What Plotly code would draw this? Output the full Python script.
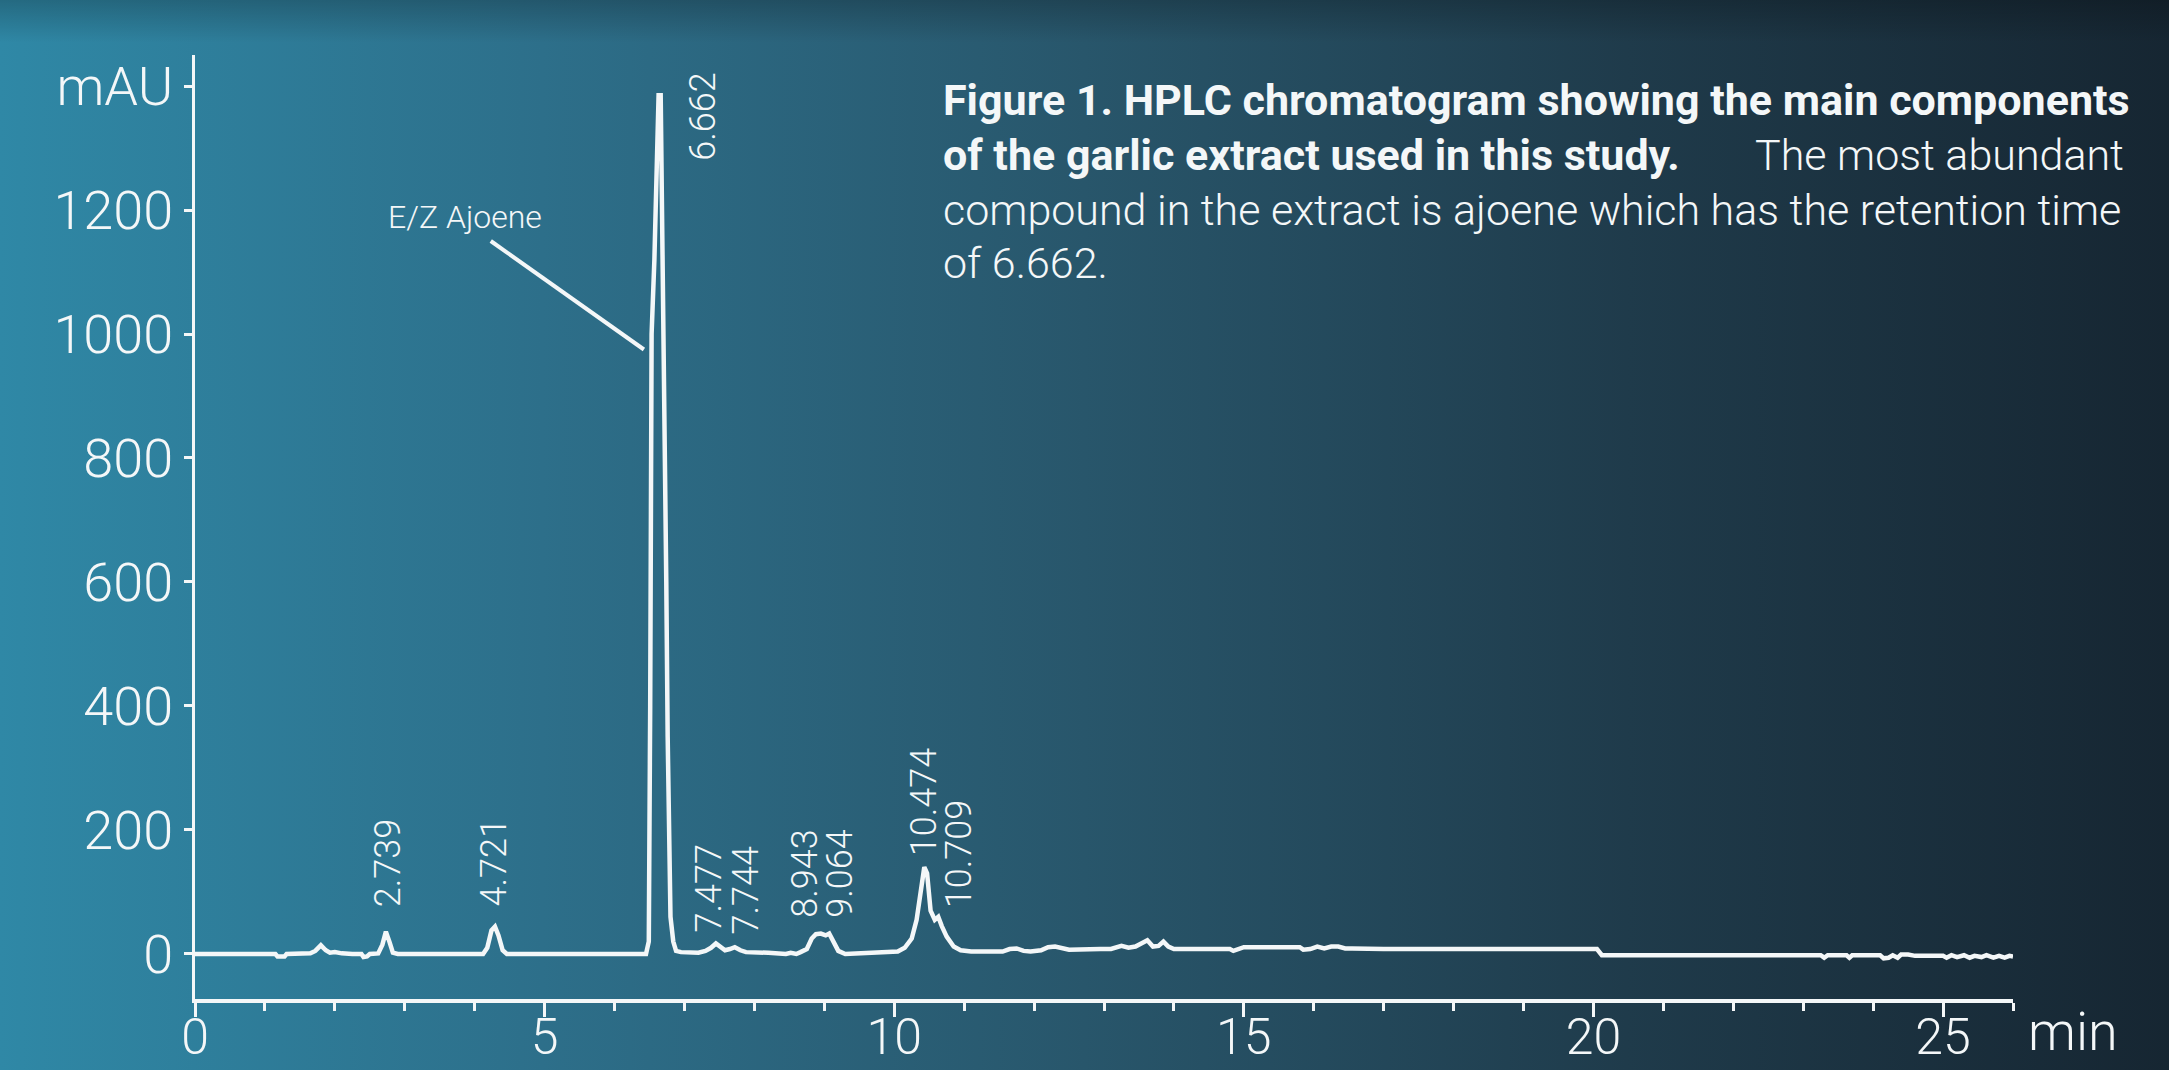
import base64
import plotly.graph_objects as go

# ---------------- data ----------------
time_min = [
    0.00, 1.15, 1.18, 1.28, 1.31, 1.65, 1.72, 1.80, 1.87, 1.93, 2.00, 2.10, 2.25, 2.38, 2.41, 2.46, 2.50,
    2.62, 2.68, 2.73, 2.78, 2.83, 2.90, 4.12, 4.18, 4.24, 4.29, 4.34, 4.40, 4.46,
    6.45, 6.49, 6.51, 6.53, 6.57, 6.60, 6.63, 6.66, 6.67, 6.69, 6.72, 6.74, 6.76, 6.78, 6.80, 6.84, 6.88,
    6.95, 7.20, 7.30, 7.38, 7.45, 7.52, 7.58, 7.65, 7.72, 7.80, 7.88, 8.20, 8.45, 8.52, 8.60, 8.66,
    8.75, 8.82, 8.88, 8.95, 9.02, 9.07, 9.13, 9.20, 9.30, 9.50, 9.80, 10.05, 10.15, 10.25, 10.32,
    10.38, 10.43, 10.47, 10.52, 10.58, 10.63, 10.68, 10.75, 10.85, 10.95, 11.10, 11.55, 11.65, 11.75,
    11.85, 11.95, 12.10, 12.20, 12.30, 12.40, 12.50, 12.95, 13.10, 13.25, 13.35, 13.45, 13.55, 13.62,
    13.70, 13.78, 13.85, 13.92, 14.00, 14.80, 14.85, 14.92, 15.00, 15.80, 15.85, 15.95, 16.05, 16.15,
    16.25, 16.35, 16.45, 16.55, 17.00, 20.05, 20.12, 23.25, 23.30, 23.35, 23.62, 23.66, 23.70, 24.10,
    24.15, 24.22, 24.28, 24.35, 24.40, 24.50, 24.60, 25.00, 25.05, 25.12, 25.20, 25.30, 25.38, 25.45,
    25.55, 25.62, 25.72, 25.80, 25.88, 25.95, 26.00,
]
absorbance_mau = [
    0, 0, -4, -4, 0, 1, 5, 14, 6, 2, 3, 1, 0, 0, -5, -4, 0,
    1, 15, 36, 20, 2, 0, 0, 10, 38, 44, 30, 6, 0,
    0, 20, 400, 1000, 1120, 1280, 1385, 1385, 1300, 1140, 900, 600, 350, 150, 60, 20, 5,
    3, 2, 5, 10, 17, 12, 6, 8, 11, 6, 3, 2, 0, 2, 0, 3,
    8, 25, 32, 33, 30, 33, 20, 5, 0, 1, 2, 4, 10, 25, 55,
    100, 140, 130, 70, 55, 60, 45, 28, 12, 6, 4, 4, 8, 9,
    5, 4, 6, 11, 12, 10, 7, 8, 8, 13, 10, 12, 18, 22,
    12, 13, 20, 12, 8, 8, 5, 8, 11, 11, 7, 8, 12, 9,
    12, 12, 9, 9, 8, 8, -2, -2, -6, -2, -2, -6, -2, -2,
    -7, -6, -2, -6, -1, -1, -3, -3, -6, -2, -5, -2, -6, -3,
    -5, -2, -6, -3, -6, -3, -4,
]

# peak retention-time labels: text, x (min), y of label bottom (mAU)
peak_labels = ["2.739", "4.721", "6.662", "7.477", "7.744", "8.943", "9.064", "10.474", "10.709"]
peak_label_x = [2.76, 4.28, 7.27, 7.35, 7.88, 8.73, 9.23, 10.43, 10.93]
peak_label_y = [73, 73, 1276, 32, 29, 55, 55, 155, 71]

y_tick_vals = [0, 200, 400, 600, 800, 1000, 1200, 1400]
y_tick_text = ["0", "200", "400", "600", "800", "1000", "1200", "mAU"]
x_tick_vals = [0, 5, 10, 15, 20, 25]
x_tick_text = ["0", "5", "10", "15", "20", "25"]

compound_name = "E/Z Ajoene"
compound_label_pos = (3.86, 1189)
compound_pointer = ([4.23, 6.42], [1150, 975])

caption_bold_1 = "Figure 1. HPLC chromatogram showing the main components"
caption_bold_2 = "of the garlic extract used in this study."
caption_rest_2 = "The most abundant"
caption_3 = "compound in the extract is ajoene which has the retention time"
caption_4 = "of 6.662."

# ---------------- figure ----------------
W, H = 2169, 1070
ML, MR, MT, MB = 195, 156, 55, 71
PW, PH = W - ML - MR, H - MT - MB

FONT = "Roboto, 'Open Sans', sans-serif"
WHITE = "#f4f7f8"

svg = (
    f'<svg xmlns="http://www.w3.org/2000/svg" width="{W}" height="{H}" viewBox="0 0 {W} {H}" '
    'preserveAspectRatio="none"><defs>'
    '<linearGradient id="g" x1="0" y1="0" x2="1" y2="0">'
    '<stop offset="0" stop-color="#2f88a6"/>'
    '<stop offset="0.25" stop-color="#2d6f8a"/>'
    '<stop offset="0.5" stop-color="#28566b"/>'
    '<stop offset="0.75" stop-color="#1f3b4b"/>'
    '<stop offset="1" stop-color="#162632"/>'
    '</linearGradient>'
    '<linearGradient id="v" x1="0" y1="0" x2="0" y2="1">'
    '<stop offset="0" stop-color="#000" stop-opacity="0.22"/>'
    '<stop offset="0.04" stop-color="#000" stop-opacity="0"/>'
    '</linearGradient></defs>'
    f'<rect width="{W}" height="{H}" fill="url(#g)"/>'
    f'<rect width="{W}" height="{H}" fill="url(#v)"/></svg>'
)
bg_src = "data:image/svg+xml;base64," + base64.b64encode(svg.encode()).decode()

fig = go.Figure()
fig.add_trace(go.Scatter(
    x=time_min, y=absorbance_mau, mode="lines",
    line=dict(color=WHITE, width=4.5), hoverinfo="skip", showlegend=False,
))
fig.add_trace(go.Scatter(
    x=compound_pointer[0], y=compound_pointer[1], mode="lines",
    line=dict(color=WHITE, width=4), hoverinfo="skip", showlegend=False,
))

annotations = []
for t, xx, yy in zip(peak_labels, peak_label_x, peak_label_y):
    annotations.append(dict(
        x=xx, y=yy, xref="x", yref="y", text=t, showarrow=False, textangle=-90,
        xanchor="center", yanchor="bottom",
        font=dict(family=FONT, size=36, color=WHITE, weight=300),
    ))
annotations.append(dict(
    x=compound_label_pos[0], y=compound_label_pos[1], xref="x", yref="y", text=compound_name,
    showarrow=False, xanchor="center", yanchor="middle",
    font=dict(family=FONT, size=32, color=WHITE, weight=300),
))


def px_x(xf):
    return (xf - ML) / PW


def px_y(yf):
    return (H - MB - yf) / PH


cap_font = dict(family=FONT, size=43, color=WHITE, weight=300)
x_left, x_right = px_x(941), px_x(2126)
annotations += [
    dict(x=x_left, y=px_y(100), xref="paper", yref="paper", text=f"<b>{caption_bold_1}</b>",
         showarrow=False, xanchor="left", yanchor="middle", font=cap_font),
    dict(x=x_left, y=px_y(155), xref="paper", yref="paper", text=f"<b>{caption_bold_2}</b>",
         showarrow=False, xanchor="left", yanchor="middle", font=cap_font),
    dict(x=x_right, y=px_y(155), xref="paper", yref="paper", text=caption_rest_2,
         showarrow=False, xanchor="right", yanchor="middle", font=cap_font),
    dict(x=x_left, y=px_y(210), xref="paper", yref="paper", text=caption_3,
         showarrow=False, xanchor="left", yanchor="middle", font=cap_font),
    dict(x=x_left, y=px_y(263), xref="paper", yref="paper", text=caption_4,
         showarrow=False, xanchor="left", yanchor="middle", font=cap_font),
    dict(x=px_x(2073), y=px_y(1031), xref="paper", yref="paper", text="min",
         showarrow=False, xanchor="center", yanchor="middle",
         font=dict(family=FONT, size=54, color=WHITE, weight=300)),
]

fig.update_layout(
    width=W, height=H, autosize=False,
    margin=dict(l=ML, r=MR, t=MT, b=MB, pad=0, autoexpand=False),
    paper_bgcolor="#24506a", plot_bgcolor="rgba(0,0,0,0)",
    images=[dict(source=bg_src, xref="paper", yref="paper",
                 x=-ML / PW, y=1 + MT / PH, sizex=W / PW, sizey=H / PH,
                 xanchor="left", yanchor="top", sizing="stretch", layer="below")],
    annotations=annotations,
    showlegend=False,
)
fig.update_xaxes(
    range=[0, 26], showgrid=False, zeroline=False, automargin=False,
    showline=True, linecolor=WHITE, linewidth=4,
    ticks="outside", tickcolor=WHITE, tickwidth=3, ticklen=14,
    tickvals=x_tick_vals, ticktext=x_tick_text, ticklabelstandoff=-23,
    minor=dict(dtick=1, tick0=0, ticks="outside", ticklen=8, tickwidth=3, tickcolor=WHITE),
    tickfont=dict(family=FONT, size=50, color=WHITE, weight=300),
)
fig.update_yaxes(
    range=[-72.6, 1450], showgrid=False, zeroline=False, automargin=False,
    showline=True, linecolor=WHITE, linewidth=3,
    ticks="outside", tickcolor=WHITE, tickwidth=3, ticklen=8,
    tickvals=y_tick_vals, ticktext=y_tick_text,
    tickfont=dict(family=FONT, size=54, color=WHITE, weight=300),
)

fig.write_html("out.html", config={"displayModeBar": False},
               post_script="document.body.style.margin='0';")
